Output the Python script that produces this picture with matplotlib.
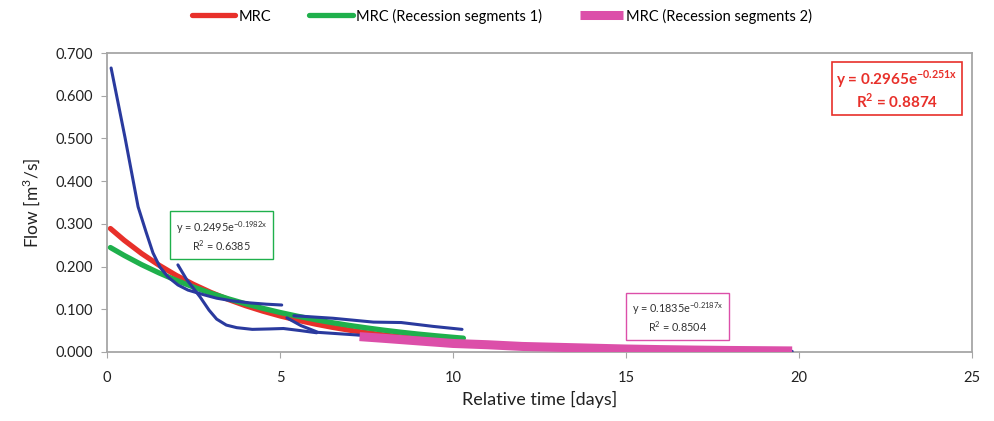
import matplotlib
matplotlib.use("Agg")
import matplotlib.pyplot as plt

plt.rcParams['font.family'] = ['Lato', 'DejaVu Sans']

# ---- data ----
mrc_x = [0.1, 0.5, 1, 1.5, 2, 2.5, 3, 3.5, 4, 4.5, 5, 5.5, 6, 6.5, 7, 7.5, 8, 8.5, 9, 9.5, 10, 10.2]
mrc_y = [0.2891, 0.2615, 0.2307, 0.2035, 0.1795, 0.1583, 0.1396, 0.1232, 0.1086, 0.0958, 0.0845,
         0.0746, 0.0658, 0.0580, 0.0512, 0.0451, 0.0398, 0.0351, 0.0310, 0.0273, 0.0241, 0.0229]

seg1_x = [0.1, 0.5, 1, 1.5, 2, 2.5, 3, 3.5, 4, 4.5, 5, 5.5, 6, 6.5, 7, 7.5, 8, 8.5, 9, 9.5, 10, 10.3]
seg1_y = [0.2446, 0.2260, 0.2046, 0.1854, 0.1679, 0.1520, 0.1377, 0.1247, 0.1130, 0.1023, 0.0926,
          0.0839, 0.0760, 0.0688, 0.0623, 0.0565, 0.0511, 0.0463, 0.0419, 0.0380, 0.0344, 0.0324]

seg2_x = [7.3, 8, 9, 10, 11, 12, 13, 14, 15, 16, 17, 18, 19, 19.8]
seg2_y = [0.036, 0.032, 0.026, 0.020, 0.017, 0.013, 0.011, 0.009, 0.007, 0.0056, 0.0045, 0.0036, 0.0030, 0.0025]

obs_a_x = [0.12, 0.52, 0.90, 1.13, 1.33, 1.53, 1.76, 2.05, 2.34, 2.8, 3.17, 3.6, 4.13, 4.6, 5.05]
obs_a_y = [0.665, 0.503, 0.340, 0.281, 0.232, 0.199, 0.176, 0.157, 0.145, 0.134, 0.126, 0.120, 0.115, 0.112, 0.110]

obs_b_x = [2.05, 2.3, 2.69, 2.95, 3.17, 3.45, 3.75, 4.2, 4.7, 5.1, 5.6, 6.06]
obs_b_y = [0.204, 0.170, 0.129, 0.098, 0.077, 0.063, 0.057, 0.053, 0.054, 0.055, 0.050, 0.045]

obs_c_x = [5.2, 5.6, 6.1, 7.2, 8.5, 10.0, 11.0, 12.0, 14.0, 16.0, 18.0, 19.8]
obs_c_y = [0.080, 0.062, 0.046, 0.040, 0.031, 0.019, 0.014, 0.010, 0.006, 0.004, 0.003, 0.0015]

obs_d_x = [5.4, 5.58, 6.53, 7.7, 8.5, 9.42, 10.26]
obs_d_y = [0.085, 0.084, 0.079, 0.070, 0.069, 0.060, 0.053]

x_ticks = [0, 5, 10, 15, 20, 25]
y_ticks = [0.0, 0.1, 0.2, 0.3, 0.4, 0.5, 0.6, 0.7]
y_tick_labels = ['0.000', '0.100', '0.200', '0.300', '0.400', '0.500', '0.600', '0.700']

RED = '#e8302a'
GREEN = '#1fb04c'
PINK = '#dc4fa9'
BLUE = '#2a3a9e'
GRAY = '#a6a6a6'

fig = plt.figure(figsize=(9.94, 4.21), dpi=100)
ax = fig.add_axes([0.1076, 0.1639, 0.978 - 0.1076, 0.874 - 0.1639])

l_mrc, = ax.plot(mrc_x, mrc_y, color=RED, lw=3.8, solid_capstyle='round', label='MRC', zorder=2)
l_s1, = ax.plot(seg1_x, seg1_y, color=GREEN, lw=3.8, solid_capstyle='round',
                label='MRC (Recession segments 1)', zorder=3)
for xs, ys in [(obs_a_x, obs_a_y), (obs_b_x, obs_b_y), (obs_c_x, obs_c_y), (obs_d_x, obs_d_y)]:
    ax.plot(xs, ys, color=BLUE, lw=2.2, solid_capstyle='round', solid_joinstyle='round', zorder=4)
l_s2, = ax.plot(seg2_x, seg2_y, color=PINK, lw=6.5, solid_capstyle='butt',
                label='MRC (Recession segments 2)', zorder=5)

ax.set_xlim(0, 25)
ax.set_ylim(0, 0.7)
ax.set_xticks(x_ticks)
ax.set_xticklabels([str(t) for t in x_ticks])
ax.set_yticks(y_ticks)
ax.set_yticklabels(y_tick_labels)
ax.tick_params(axis='both', direction='out', length=4, color=GRAY, labelsize=10.5,
               labelcolor='#222222')
ax.tick_params(axis='x', pad=10)
ax.tick_params(axis='y', pad=6)
for s in ax.spines.values():
    s.set_color(GRAY)
    s.set_linewidth(1.3)

ax.set_xlabel('Relative time [days]', fontsize=13, color='#222222', labelpad=4)
ax.set_ylabel('Flow [m$^{\\mathregular{3}}$/s]', fontsize=12.5, color='#222222', labelpad=10)

# trendline annotations
ax.text(3.31, 0.272, 'y = 0.2495e$^{\\mathregular{-0.1982x}}$\nR$^{\\mathregular{2}}$ = 0.6385',
        ha='center', va='center', multialignment='center', fontsize=7.8, color='#333333',
        bbox=dict(boxstyle='square,pad=0.55', fc='white', ec=GREEN, lw=1.0), zorder=6)
ax.text(16.49, 0.081, 'y = 0.1835e$^{\\mathregular{-0.2187x}}$\nR$^{\\mathregular{2}}$ = 0.8504',
        ha='center', va='center', multialignment='center', fontsize=7.8, color='#333333',
        bbox=dict(boxstyle='square,pad=0.55', fc='white', ec=PINK, lw=1.0), zorder=6)
ax.text(22.83, 0.615, 'y = 0.2965e$^{\\mathregular{-0.251x}}$\nR$^{\\mathregular{2}}$ = 0.8874',
        ha='center', va='center', multialignment='center', fontsize=11, color=RED,
        fontweight='bold', linespacing=1.1,
        bbox=dict(boxstyle='square,pad=0.3', fc='white', ec=RED, lw=1.2), zorder=6)

fig.legend(handles=[l_mrc, l_s1, l_s2], loc='center', bbox_to_anchor=(0.505, 0.962), ncol=3,
           frameon=False, fontsize=10.5, handlelength=3.0, handletextpad=0.2, columnspacing=2.6)

fig.savefig('out.png', dpi=100)
